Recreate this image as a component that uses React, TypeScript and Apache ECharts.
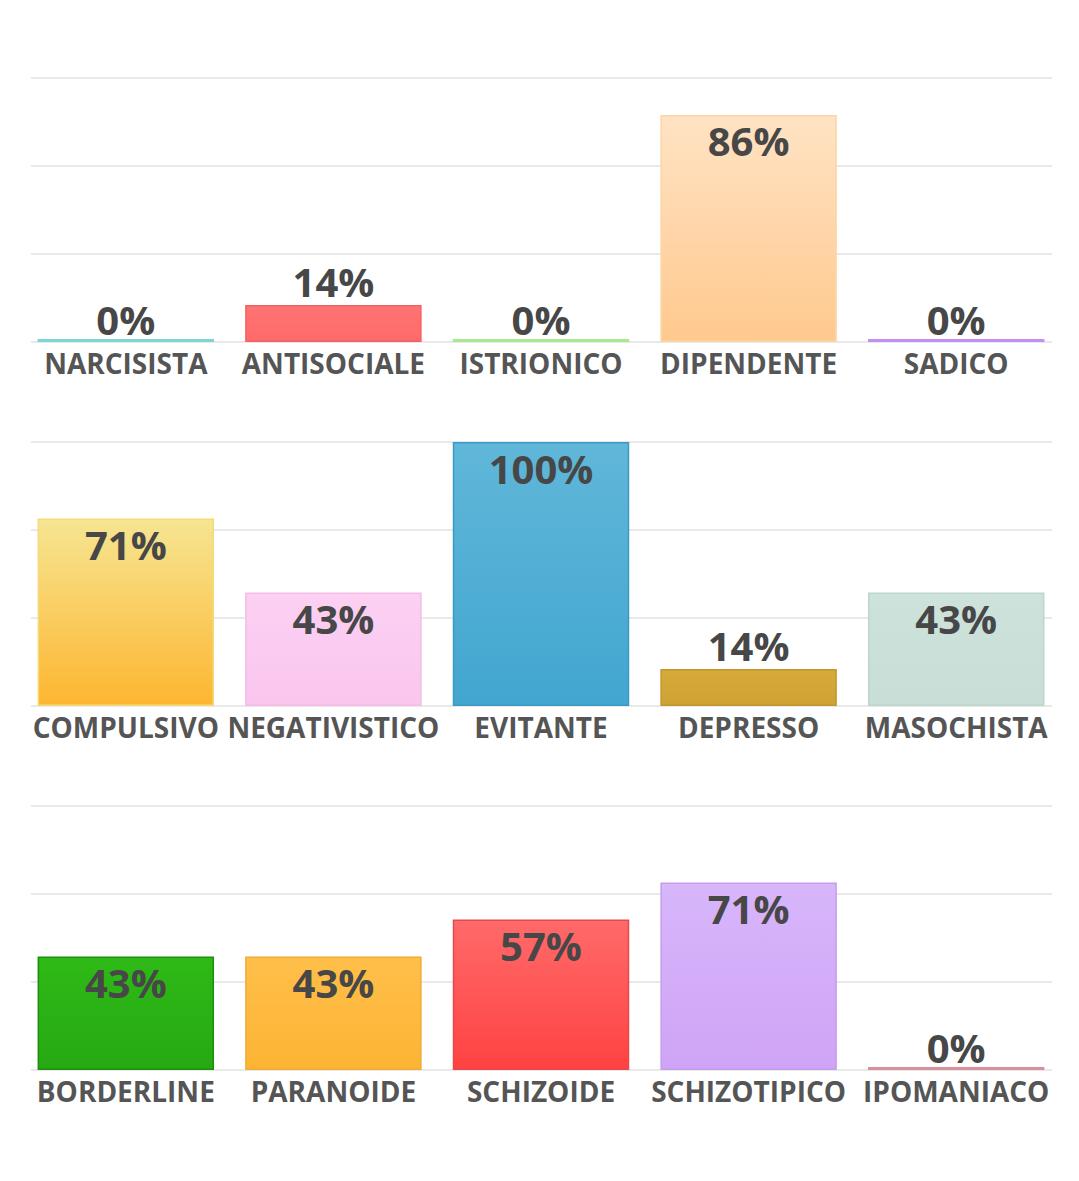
import React, { useEffect, useRef } from "react";
import * as echarts from "echarts";

const categories1 = ["NARCISISTA", "ANTISOCIALE", "ISTRIONICO", "DIPENDENTE", "SADICO"];
const values1 = [0, 14, 0, 86, 0];
const categories2 = ["COMPULSIVO", "NEGATIVISTICO", "EVITANTE", "DEPRESSO", "MASOCHISTA"];
const values2 = [71, 43, 100, 14, 43];
const categories3 = ["BORDERLINE", "PARANOIDE", "SCHIZOIDE", "SCHIZOTIPICO", "IPOMANIACO"];
const values3 = [43, 43, 57, 71, 0];

// [top, bottom, border]
const colors1 = [
  ["#7fd4d4", "#7fd4d4", "#72caca"],
  ["#ff7474", "#ff6a6a", "#f26262"],
  ["#a8e890", "#a8e890", "#9cde84"],
  ["#ffe3c4", "#ffc98e", "#fad6a8"],
  ["#c290f0", "#c290f0", "#b684e6"],
];
const colors2 = [
  ["#f6e592", "#fdb631", "#f2dc7a"],
  ["#fcd0f3", "#fac6ee", "#f4bbe6"],
  ["#60b7d9", "#42a6d0", "#3a9ac4"],
  ["#d6ab3a", "#cea233", "#c2962c"],
  ["#cce2da", "#c8ded6", "#bcd6cc"],
];
const colors3 = [
  ["#2eba16", "#27a913", "#1e8e0e"],
  ["#ffbf4a", "#fdb434", "#f0ab30"],
  ["#ff6a6a", "#ff4242", "#e84848"],
  ["#d7b6fb", "#cfa4f5", "#c69cee"],
  ["#d8909a", "#d8909a", "#cc848e"],
];

const FONT = "'Open Sans', 'Noto Sans', sans-serif";
const TOPS = [70, 434, 798];
const PANEL_H = 264;

function App() {
  const ref = useRef<HTMLDivElement>(null);
  useEffect(() => {
    if (!ref.current) return;
    const chart = echarts.init(ref.current, undefined, { renderer: "svg" });
    const panels = [
      { cats: categories1, vals: values1, cols: colors1 },
      { cats: categories2, vals: values2, cols: colors2 },
      { cats: categories3, vals: values3, cols: colors3 },
    ];
    const grid: any[] = [];
    const xAxis: any[] = [];
    const yAxis: any[] = [];
    const series: any[] = [];
    panels.forEach((p, i) => {
      // gridline grid
      grid.push({ left: 23, width: 1021, top: TOPS[i], height: PANEL_H });
      xAxis.push({ type: "value", gridIndex: 2 * i, min: 0, max: 1, show: false });
      yAxis.push({
        type: "value",
        gridIndex: 2 * i,
        min: 0,
        max: 100,
        interval: 100 / 3,
        axisLabel: { show: false },
        axisLine: { show: false },
        axisTick: { show: false },
        splitLine: { show: true, lineStyle: { color: "#e9e9e9", width: 2 } },
      });
      // bar grid
      grid.push({ left: 14, width: 1038, top: TOPS[i], height: PANEL_H });
      xAxis.push({
        type: "category",
        gridIndex: 2 * i + 1,
        data: p.cats,
        axisLine: { show: false },
        axisTick: { show: false },
        axisLabel: {
          interval: 0,
          margin: 7,
          fontFamily: FONT,
          fontWeight: "bold",
          fontSize: 28,
          color: "#555555",
        },
      });
      yAxis.push({
        type: "value",
        gridIndex: 2 * i + 1,
        min: 0,
        max: 100,
        show: false,
        splitLine: { show: false },
      });
      series.push({
        type: "bar",
        xAxisIndex: 2 * i + 1,
        yAxisIndex: 2 * i + 1,
        barCategoryGap: "15%",
        barMinHeight: 3,
        z: 3,
        data: p.vals.map((v, j) => ({
          value: v,
          itemStyle: {
            color: new echarts.graphic.LinearGradient(0, 0, 0, 1, [
              { offset: 0, color: p.cols[j][0] },
              { offset: 1, color: p.cols[j][1] },
            ]),
            borderColor: p.cols[j][2],
            borderWidth: v === 0 ? 0 : 1.5,
          },
          label: {
            position: v < 30 ? "top" : "insideTop",
            distance: v === 0 ? 0 : v < 30 ? 4 : 6,
          },
        })),
        label: {
          show: true,
          formatter: "{c}%",
          fontFamily: FONT,
          fontWeight: "bold",
          fontSize: 40,
          color: "#474747",
        },
      });
    });
    chart.setOption({
      animation: false,
      backgroundColor: "#ffffff",
      grid,
      xAxis,
      yAxis,
      series,
    });
    return () => chart.dispose();
  }, []);
  return <div ref={ref} style={{ width: 1063, height: 1165 }} />;
}

export default App;
